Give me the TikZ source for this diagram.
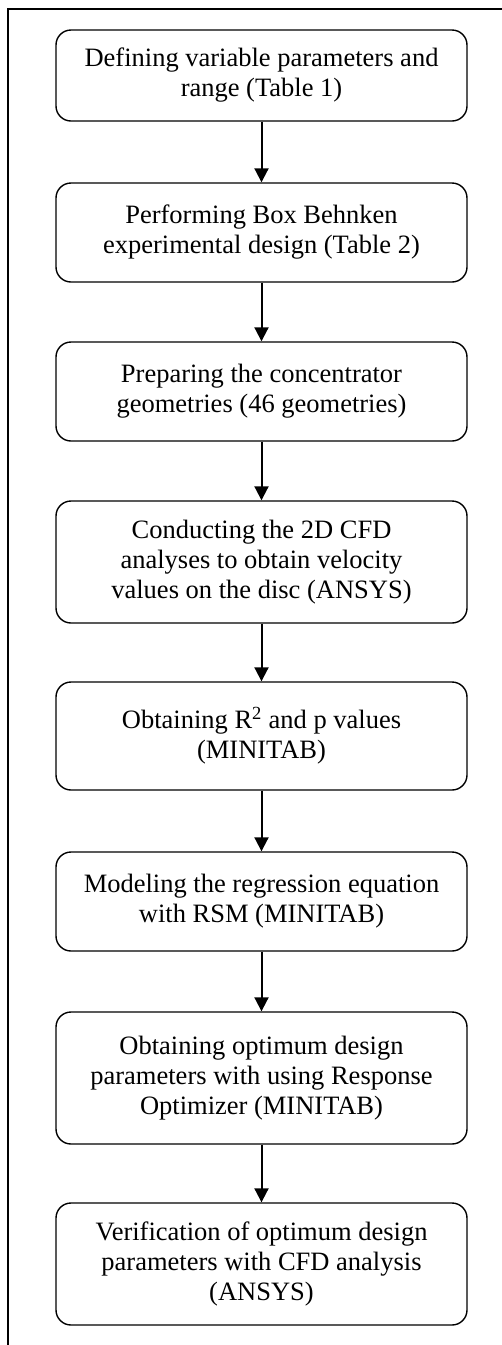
\documentclass[tikz,border=0pt]{standalone}
\usepackage{fontspec}
\setmainfont{Liberation Serif}
\usetikzlibrary{arrows.meta}
\begin{document}
\begin{tikzpicture}[x=1pt,y=1pt,
  stepbox/.style={draw=black, line width=1.4pt, rounded corners=15pt,
    minimum width=411pt, align=center, inner sep=0pt,
    font=\fontsize{26.5}{30}\selectfont},
  flow/.style={line width=2pt, -{Triangle[width=14pt,length=14pt]}},
  frame/.style={line width=1.3pt}]
\useasboundingbox (0,0) rectangle (502,-1345);
\draw[frame] (8,-1345) -- (8,-9) -- (502,-9);
\node[stepbox, minimum height=91pt] (b1) at (261.5,-75.5)
  {Defining variable parameters and\\range (Table 1)};
\node[stepbox, minimum height=99pt] (b2) at (261.5,-232.5)
  {Performing Box Behnken\\experimental design (Table 2)};
\node[stepbox, minimum height=99pt] (b3) at (261.5,-391.5)
  {Preparing the concentrator\\geometries (46 geometries)};
\node[stepbox, minimum height=122pt] (b4) at (261.5,-562)
  {Conducting the 2D CFD\\analyses to obtain velocity\\values on the disc (ANSYS)};
\node[stepbox, minimum height=108pt] (b5) at (261.5,-736)
  {Obtaining R\textsuperscript{2} and p values\\(MINITAB)};
\node[stepbox, minimum height=99pt] (b6) at (261.5,-901.5)
  {Modeling the regression equation\\with RSM (MINITAB)};
\node[stepbox, minimum height=132pt] (b7) at (261.5,-1078)
  {Obtaining optimum design\\parameters with using Response\\Optimizer (MINITAB)};
\node[stepbox, minimum height=122pt] (b8) at (261.5,-1264)
  {Verification of optimum design\\parameters with CFD analysis\\(ANSYS)};
\foreach \a/\b in {b1/b2,b2/b3,b3/b4,b4/b5,b5/b6,b6/b7,b7/b8}
  \draw[flow] (\a.south) -- (\b.north);
\end{tikzpicture}
\end{document}
